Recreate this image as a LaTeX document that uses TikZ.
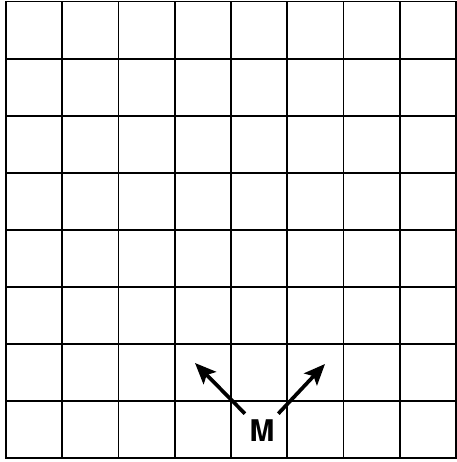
\documentclass[tikz,border=0pt]{standalone}
\usepackage{fontspec}
\setsansfont{TeX Gyre Heros}
\usetikzlibrary{arrows.meta}

\begin{document}
\begin{tikzpicture}[x=0.02cm,y=0.02cm,
    gridline/.style={line width=1.1pt,line cap=rect},
    marrow/.style={-{Stealth[length=12pt,width=10pt,inset=2.5pt]},line width=2.1pt}]
  \useasboundingbox (0,0) rectangle (456,462);
  % 8 x 8 squares
  \foreach \i in {0,...,8}
    \draw[gridline] (6+56.25*\i,4) -- (6+56.25*\i,460.5);
  \foreach \j in {0,...,8}
    \draw[gridline] (6,460.5-57.06*\j) -- (456,460.5-57.06*\j);
  \node[minimum size=0.68cm,inner sep=0,font=\sffamily\bfseries\fontsize{17}{17}\selectfont] (M) at (262,31) {M};
  \coordinate (ul) at (195,99);
  \coordinate (ur) at (325,98);
  \draw[marrow] (M) -- (ul);
  \draw[marrow] (M) -- (ur);
\end{tikzpicture}
\end{document}
